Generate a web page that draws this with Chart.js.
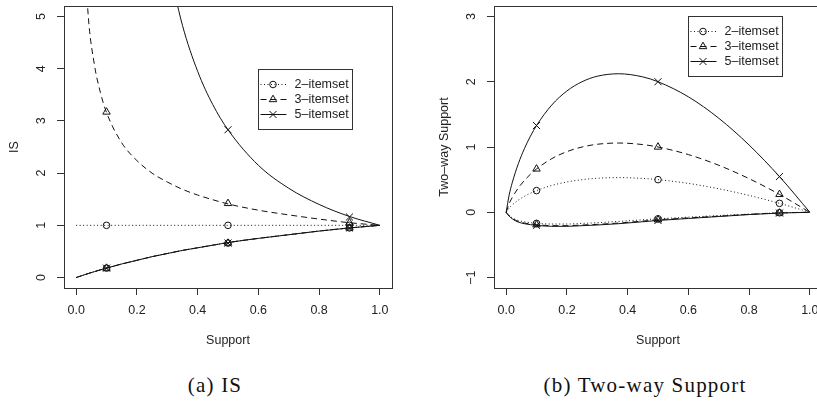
<!DOCTYPE html>
<html>
<head>
  <title>IS and Two-way Support</title>
  <script src="https://cdn.jsdelivr.net/npm/chart.js"></script>
  <style>
    html, body { margin: 0; padding: 0; background: #fff; overflow: hidden; width: 817px; height: 404px; }
    .panel { position: absolute; top: 0; }
    .caption { position: absolute; top: 373px; line-height: 24px; font-family: "Liberation Serif", serif; font-size: 21px;
               letter-spacing: 1.2px; color: #111; white-space: nowrap; transform: translateX(-50%); }
  </style>
</head>
<body>
  <canvas class="panel" id="isChart" width="410" height="360" style="left:0"></canvas>
  <canvas class="panel" id="twChart" width="410" height="360" style="left:430px"></canvas>
  <div class="caption" style="left:215px">(a) IS</div>
  <div class="caption" style="left:645px">(b) Two-way Support</div>

  <script>
    // support values shared by the curves / the marked points
    var supportTicks = [0, 0.2, 0.4, 0.6, 0.8, 1.0];
    var markSupport = [0.1, 0.5, 0.9];

    // (a) IS
    var isSupport = [0, 0.02, 0.04, 0.06, 0.08, 0.1, 0.15, 0.2, 0.25, 0.3, 0.35, 0.4, 0.45, 0.5, 0.6, 0.7, 0.8, 0.9, 1.0];
    var is2High = [1, 1, 1, 1, 1, 1, 1, 1, 1, 1, 1, 1, 1, 1, 1, 1, 1, 1, 1];
    var is3High = [null, 7.07, 5.0, 4.08, 3.54, 3.16, 2.58, 2.24, 2.0, 1.83, 1.69, 1.58, 1.49, 1.41, 1.29, 1.20, 1.12, 1.05, 1.0];
    var is5High = [null, null, null, null, null, null, null, null, null, 6.09, 4.83, 3.95, 3.31, 2.83, 2.15, 1.71, 1.40, 1.17, 1.0];
    var isLow = [0, 0.039, 0.077, 0.113, 0.148, 0.18, 0.26, 0.33, 0.40, 0.46, 0.52, 0.57, 0.62, 0.67, 0.75, 0.82, 0.89, 0.95, 1.0];
    var is2MarkHigh = [1, 1, 1];
    var is3MarkHigh = [3.17, 1.42, 1.05];
    var is5MarkHigh = [null, 2.83, 1.16];
    var isMarkLow = [0.18, 0.66, 0.95];
    var isTicks = [0, 1, 2, 3, 4, 5];

    // (b) Two-way Support
    var twSupport = [0, 0.01, 0.02, 0.04, 0.06, 0.08, 0.1, 0.15, 0.2, 0.25, 0.3, 0.37, 0.45, 0.5, 0.6, 0.7, 0.8, 0.9, 1.0];
    var tw2High = [0, 0.066, 0.113, 0.186, 0.244, 0.292, 0.332, 0.411, 0.464, 0.5, 0.521, 0.531, 0.518, 0.5, 0.442, 0.360, 0.258, 0.137, 0];
    var tw3High = [0, 0.133, 0.226, 0.372, 0.487, 0.583, 0.664, 0.821, 0.929, 1.0, 1.042, 1.061, 1.037, 1.0, 0.884, 0.720, 0.515, 0.274, 0];
    var tw5High = [0, 0.266, 0.452, 0.743, 0.974, 1.166, 1.329, 1.642, 1.858, 2.0, 2.084, 2.122, 2.074, 2.0, 1.769, 1.441, 1.030, 0.547, 0];
    var tw2Low = [0, -0.05, -0.085, -0.125, -0.145, -0.16, -0.17, -0.18, -0.18, -0.17, -0.16, -0.14, -0.115, -0.1, -0.075, -0.05, -0.028, -0.008, 0];
    var tw3Low = [0, -0.055, -0.095, -0.14, -0.165, -0.18, -0.19, -0.205, -0.205, -0.195, -0.185, -0.165, -0.135, -0.115, -0.087, -0.06, -0.032, -0.01, 0];
    var tw5Low = [0, -0.06, -0.10, -0.15, -0.175, -0.19, -0.20, -0.215, -0.215, -0.205, -0.195, -0.175, -0.145, -0.125, -0.095, -0.065, -0.035, -0.012, 0];
    var tw2MarkHigh = [0.332, 0.5, 0.137];
    var tw3MarkHigh = [0.664, 1.0, 0.274];
    var tw5MarkHigh = [1.329, 2.0, 0.547];
    var tw2MarkLow = [-0.17, -0.10, -0.008];
    var tw3MarkLow = [-0.19, -0.115, -0.01];
    var tw5MarkLow = [-0.20, -0.125, -0.012];
    var twTicks = [-1, 0, 1, 2, 3];

    var seriesNames = ['2\u2013itemset', '3\u2013itemset', '5\u2013itemset'];

    var ink = '#111';
    var dotted = [1, 2.5];
    var dashed = [6, 4];
    var solid = [];
    var marker = [
      { style: 'circle', r: 3.3, dash: dotted },
      { style: 'triangle', r: 4.3, dash: dashed },
      { style: 'crossRot', r: 5, dash: solid }
    ];
    var font = { family: 'Liberation Sans', size: 12.5 };

    function curve(xs, ys, dash) {
      return {
        data: xs.map(function (x, i) { return { x: x, y: ys[i] }; }),
        showLine: true, borderColor: ink, borderWidth: 1, borderDash: dash,
        pointRadius: 0, cubicInterpolationMode: 'monotone', fill: false
      };
    }

    function marks(ys, m) {
      return {
        data: markSupport.map(function (x, i) { return { x: x, y: ys[i] }; }),
        showLine: false, pointStyle: m.style, pointRadius: m.r,
        pointBorderColor: ink, pointBorderWidth: 1, pointBackgroundColor: 'rgba(0,0,0,0)'
      };
    }

    // box round the plot region plus an R style legend
    var rFrame = {
      id: 'rFrame',
      afterDraw: function (chart, args, opts) {
        var a = chart.chartArea, ctx = chart.ctx;
        ctx.save();
        ctx.strokeStyle = '#333';
        ctx.lineWidth = 1;
        ctx.strokeRect(Math.round(a.left) + 0.5, Math.round(a.top) + 0.5,
          Math.round(a.right - a.left), Math.round(a.bottom - a.top));

        var bx = Math.round(a.left + opts.left) + 0.5, by = Math.round(a.top + opts.top) + 0.5;
        ctx.fillStyle = '#fff';
        ctx.fillRect(bx, by, 94, 60);
        ctx.strokeRect(bx, by, 94, 60);
        ctx.font = font.size + 'px ' + font.family;
        ctx.textBaseline = 'middle';
        ctx.textAlign = 'left';
        for (var i = 0; i < seriesNames.length; i++) {
          var y = by + 15 + i * 15;
          ctx.strokeStyle = ink;
          ctx.setLineDash(marker[i].dash);
          ctx.beginPath();
          ctx.moveTo(bx + 2, y);
          ctx.lineTo(bx + 28, y);
          ctx.stroke();
          ctx.setLineDash([]);
          ctx.fillStyle = 'rgba(0,0,0,0)';
          Chart.helpers.drawPoint(ctx, { pointStyle: marker[i].style, radius: marker[i].r, rotation: 0, borderWidth: 1 }, bx + 14.5, y);
          ctx.fillStyle = '#222';
          ctx.fillText(seriesNames[i], bx + 36, y + 0.5);
        }
        ctx.restore();
      }
    };

    function makeChart(id, datasets, yMin, yMax, yTicks, yTitle, yPad, legendTop) {
      return new Chart(document.getElementById(id), {
        type: 'scatter',
        data: { datasets: datasets },
        options: {
          responsive: false,
          animation: false,
          events: [],
          layout: { padding: { left: 0, top: 5, right: 18, bottom: 0 } },
          plugins: {
            legend: { display: false },
            tooltip: { enabled: false },
            rFrame: { left: 194, top: legendTop }
          },
          scales: {
            x: {
              type: 'linear', min: -0.04, max: 1.04,
              afterBuildTicks: function (s) { s.ticks = supportTicks.map(function (v) { return { value: v }; }); },
              afterFit: function (s) { s.height = 72; s.paddingLeft = 0; s.paddingRight = 0; },
              grid: { drawOnChartArea: false, drawTicks: true, tickLength: 7, tickColor: '#333' },
              border: { display: false },
              ticks: { padding: 8.5, color: '#222', font: font, autoSkip: false, maxRotation: 0,
                       callback: function (v) { return v.toFixed(1); } },
              title: { display: true, text: 'Support', color: '#222', font: font, padding: { top: 0, bottom: 11.5 } }
            },
            y: {
              type: 'linear', min: yMin, max: yMax,
              afterBuildTicks: function (s) { s.ticks = yTicks.map(function (v) { return { value: v }; }); },
              afterFit: function (s) { s.width = 64; s.paddingTop = 0; s.paddingBottom = 0; },
              grid: { drawOnChartArea: false, drawTicks: true, tickLength: 7, tickColor: '#333' },
              border: { display: false },
              ticks: { padding: yPad, color: '#222', font: font, minRotation: 90, maxRotation: 90, crossAlign: 'center',
                       callback: function (v) { return String(v).replace('-', '\u2212'); } },
              title: { display: true, text: yTitle, color: '#222', font: font, padding: { top: 6.7, bottom: 0 } }
            }
          }
        },
        plugins: [rFrame]
      });
    }

    var isSets = [
      curve(isSupport, is2High, dotted), curve(isSupport, isLow, dotted),
      curve(isSupport, is3High, dashed), curve(isSupport, isLow, dashed),
      curve(isSupport, is5High, solid), curve(isSupport, isLow, solid),
      marks(is2MarkHigh, marker[0]), marks(isMarkLow, marker[0]),
      marks(is3MarkHigh, marker[1]), marks(isMarkLow, marker[1]),
      marks(is5MarkHigh, marker[2]), marks(isMarkLow, marker[2])
    ];

    var twSets = [
      curve(twSupport, tw2High, dotted), curve(twSupport, tw2Low, dotted),
      curve(twSupport, tw3High, dashed), curve(twSupport, tw3Low, dashed),
      curve(twSupport, tw5High, solid), curve(twSupport, tw5Low, solid),
      marks(tw2MarkHigh, marker[0]), marks(tw2MarkLow, marker[0]),
      marks(tw3MarkHigh, marker[1]), marks(tw3MarkLow, marker[1]),
      marks(tw5MarkHigh, marker[2]), marks(tw5MarkLow, marker[2])
    ];

    makeChart('isChart', isSets, -0.2, 5.2, isTicks, 'IS', 11.8, 63);
    makeChart('twChart', twSets, -1.16, 3.16, twTicks, 'Two\u2013way Support', 8.2, 10);
  </script>
</body>
</html>
